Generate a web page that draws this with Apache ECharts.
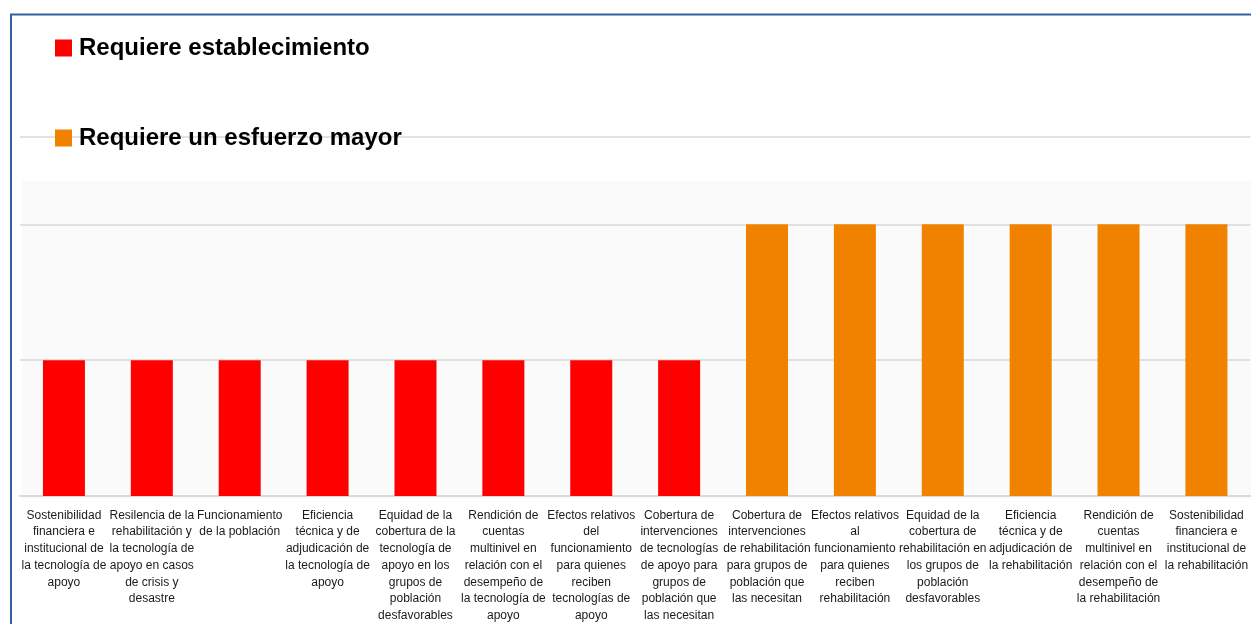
<!DOCTYPE html>
<html>
<head>
<meta charset="utf-8">
<script src="https://cdn.jsdelivr.net/npm/echarts@6/dist/echarts.min.js"></script>
<style>html,body{margin:0;padding:0;background:#fff;}#c{width:1251px;height:624px;}</style>
</head>
<body>
<div id="c"></div>
<script>
const categories = [
  "Sostenibilidad\nfinanciera e\ninstitucional de\nla tecnología de\napoyo",
  "Resilencia de la\nrehabilitación y\nla tecnología de\napoyo en casos\nde crisis y\ndesastre",
  "Funcionamiento\nde la población",
  "Eficiencia\ntécnica y de\nadjudicación de\nla tecnología de\napoyo",
  "Equidad de la\ncobertura de la\ntecnología de\napoyo en los\ngrupos de\npoblación\ndesfavorables",
  "Rendición de\ncuentas\nmultinivel en\nrelación con el\ndesempeño de\nla tecnología de\napoyo",
  "Efectos relativos\ndel\nfuncionamiento\npara quienes\nreciben\ntecnologías de\napoyo",
  "Cobertura de\nintervenciones\nde tecnologías\nde apoyo para\ngrupos de\npoblación que\nlas necesitan",
  "Cobertura de\nintervenciones\nde rehabilitación\npara grupos de\npoblación que\nlas necesitan",
  "Efectos relativos\nal\nfuncionamiento\npara quienes\nreciben\nrehabilitación",
  "Equidad de la\ncobertura de\nrehabilitación en\nlos grupos de\npoblación\ndesfavorables",
  "Eficiencia\ntécnica y de\nadjudicación de\nla rehabilitación",
  "Rendición de\ncuentas\nmultinivel en\nrelación con el\ndesempeño de\nla rehabilitación",
  "Sostenibilidad\nfinanciera e\ninstitucional de\nla rehabilitación"
];
const seriesNames = ["Requiere establecimiento", "Requiere un esfuerzo mayor"];
const establecimiento = [1, 1, 1, 1, 1, 1, 1, 1, '-', '-', '-', '-', '-', '-'];
const esfuerzoMayor = ['-', '-', '-', '-', '-', '-', '-', '-', 2, 2, 2, 2, 2, 2];
const yMin = 0;
const yMax = 2.6423;
const yInterval = 1;

const chart = echarts.init(document.getElementById('c'));
chart.setOption({
  backgroundColor: '#ffffff',
  animation: false,
  graphic: [
    { type: 'rect', z: -10, shape: { x: 22, y: 181, width: 1240, height: 318 }, style: { fill: '#fafafa' } },
    { type: 'rect', z: 10, shape: { x: 11, y: 14.5, width: 1300, height: 700 }, style: { fill: 'none', stroke: '#3560a0', lineWidth: 2 } }
  ],
  legend: {
    orient: 'vertical',
    left: 55,
    top: 36,
    padding: 0,
    itemWidth: 17,
    itemHeight: 17,
    itemGap: 66,
    icon: 'rect',
    textStyle: { fontFamily: 'Liberation Sans', fontWeight: 'bold', fontSize: 24, color: '#000', padding: [0, 0, 0, 2] },
    data: seriesNames
  },
  grid: { left: 20, right: -3, top: 137, bottom: 125, containLabel: false },
  xAxis: {
    type: 'category',
    data: categories,
    axisLine: { show: true, lineStyle: { color: '#d9d9d9', width: 2 } },
    axisTick: { show: false },
    axisLabel: { interval: 0, margin: 11, fontFamily: 'Liberation Sans', fontSize: 12, lineHeight: 16.7, color: '#1a1a1a', align: 'center' }
  },
  yAxis: {
    type: 'value',
    min: yMin,
    max: yMax,
    interval: yInterval,
    axisLabel: { show: false },
    axisLine: { show: false },
    axisTick: { show: false },
    splitLine: { show: true, lineStyle: { color: '#d9d9d9', width: 1.5 } }
  },
  series: [
    { name: seriesNames[0], type: 'bar', stack: 'a', data: establecimiento, barWidth: 42, itemStyle: { color: '#ff0000' } },
    { name: seriesNames[1], type: 'bar', stack: 'a', data: esfuerzoMayor, barWidth: 42, itemStyle: { color: '#f08200' } }
  ]
});
</script>
</body>
</html>
